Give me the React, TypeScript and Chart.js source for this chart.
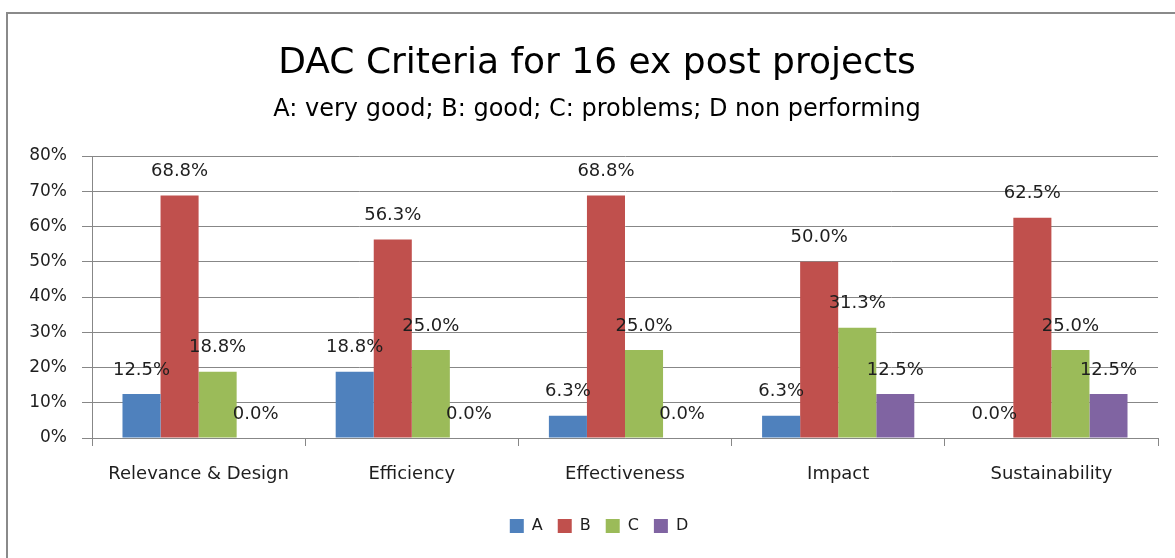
import React, { useEffect, useRef } from "react";
import { Chart, registerables } from "chart.js";

Chart.register(...registerables);

const categories = ["Relevance & Design", "Efficiency", "Effectiveness", "Impact", "Sustainability"];
const seriesNames = ["A", "B", "C", "D"];
const seriesA = [0.125, 0.188, 0.063, 0.063, 0.0];
const seriesB = [0.688, 0.563, 0.688, 0.5, 0.625];
const seriesC = [0.188, 0.25, 0.25, 0.313, 0.25];
const seriesD = [0.0, 0.0, 0.0, 0.125, 0.125];
const seriesColors = ["#4F81BD", "#C0504D", "#9BBB59", "#8064A2"];
const titleText = "DAC Criteria for 16 ex post projects";
const subtitleText = "A: very good; B: good; C: problems; D non performing";
const yMin = 0;
const yMax = 0.8;
const yStep = 0.1;

const FONT = "'DejaVu Sans', sans-serif";
const GRID = "#878787";
const TEXT = "#1e1e1e";

const valueLabels = {
  id: "valueLabels",
  afterDatasetsDraw(chart: any) {
    const ctx = chart.ctx;
    ctx.save();
    ctx.font = `18px ${FONT}`;
    ctx.fillStyle = TEXT;
    ctx.textAlign = "center";
    ctx.textBaseline = "middle";
    chart.data.datasets.forEach((ds: any, i: number) => {
      const meta = chart.getDatasetMeta(i);
      meta.data.forEach((bar: any, j: number) => {
        const v = ds.data[j] as number;
        ctx.fillText((v * 100).toFixed(1) + "%", bar.x, bar.y - 24);
      });
    });
    ctx.restore();
  },
};

// Shift the full-width boxes (title, subtitle, legend) so they are centred
// like the reference, which centres them on the whole chart frame.
const boxShift = {
  id: "boxShift",
  afterLayout(chart: any) {
    const shift = (box: any, dx: number) => {
      if (box) {
        box.left += dx;
        box.right += dx;
      }
    };
    shift(chart.legend, 20);
    shift(chart.titleBlock, 18);
    const sub = chart.boxes.find((b: any) => b !== chart.titleBlock && b.options && b.options.text === subtitleText);
    shift(sub, 18);
  },
};

export default function App() {
  const canvasRef = useRef<HTMLCanvasElement | null>(null);

  useEffect(() => {
    if (!canvasRef.current) return;
    const allSeries = [seriesA, seriesB, seriesC, seriesD];
    const chart = new Chart(canvasRef.current, {
      type: "bar",
      data: {
        labels: categories,
        datasets: seriesNames.map((name, i) => ({
          label: name,
          data: allSeries[i],
          backgroundColor: seriesColors[i],
          borderWidth: 0,
          categoryPercentage: 0.714,
          barPercentage: 1.0,
        })),
      },
      options: {
        responsive: false,
        animation: false,
        layout: { padding: { left: 0, right: 17, top: 0, bottom: 14 } },
        plugins: {
          title: {
            display: true,
            text: titleText,
            color: "#000",
            font: { family: FONT, size: 36, weight: "normal" },
            padding: { top: 42, bottom: 10 },
          },
          subtitle: {
            display: true,
            text: subtitleText,
            color: "#000",
            font: { family: FONT, size: 24, weight: "normal" },
            padding: { top: 0, bottom: 32 },
          },
          legend: {
            display: true,
            position: "bottom",
            labels: {
              boxWidth: 14,
              boxHeight: 14,
              padding: 15,
              color: TEXT,
              font: { family: FONT, size: 16 },
            },
          },
          tooltip: { enabled: false },
        },
        scales: {
          x: {
            offset: true,
            grid: {
              display: true,
              offset: true,
              drawOnChartArea: false,
              drawTicks: true,
              tickLength: 8,
              color: GRID,
            },
            border: { display: true, color: GRID, width: 1 },
            ticks: {
              color: TEXT,
              font: { family: FONT, size: 18 },
              padding: 18,
              maxRotation: 0,
              autoSkip: false,
            },
            afterFit: (s: any) => {
              s.height = 65;
            },
          },
          y: {
            min: yMin,
            max: yMax,
            grid: { color: GRID, tickLength: 10, drawTicks: true },
            border: { display: true, color: GRID, width: 1 },
            ticks: {
              stepSize: yStep,
              color: TEXT,
              font: { family: FONT, size: 17 },
              padding: 15,
              callback: (v: any) => Math.round(Number(v) * 100) + "%",
            },
            afterFit: (s: any) => {
              s.width = 92;
            },
          },
        },
      },
      plugins: [valueLabels, boxShift],
    });
    return () => chart.destroy();
  }, []);

  return (
    <div style={{ position: "fixed", left: 0, top: 0, width: 1175, height: 558, overflow: "hidden", background: "#fff" }}>
      <div
        style={{
          position: "absolute",
          left: 6,
          top: 12,
          width: 1300,
          height: 700,
          borderLeft: "2px solid #8a8a8a",
          borderTop: "2px solid #8a8a8a",
        }}
      />
      <canvas ref={canvasRef} width={1175} height={558} style={{ position: "absolute", left: 0, top: 0 }} />
    </div>
  );
}
